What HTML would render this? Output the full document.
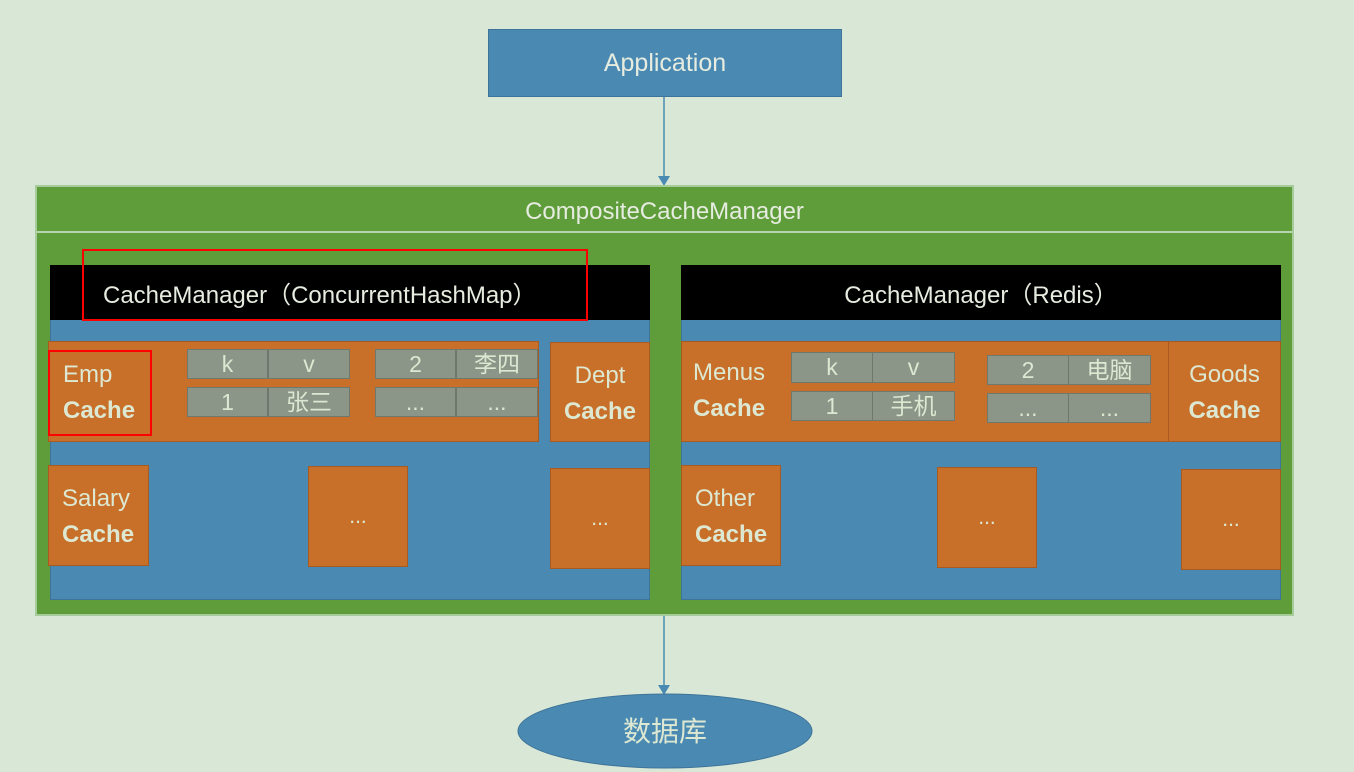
<!DOCTYPE html>
<html><head><meta charset="utf-8"><style>
body{margin:0;width:1354px;height:772px;background:#d9e7d6;position:relative;overflow:hidden;font-family:"Liberation Sans","Noto Sans CJK SC",sans-serif;color:#dde8d2}
div{position:absolute;box-sizing:border-box}
.o{background:#c8702a;border:1px solid #a85a20}
.g{background:#8b9588;border:1px solid #6f786c;font-size:23px;text-align:center;line-height:28px}
.lbl{font-size:24px;line-height:36px;padding-left:13px}
.lbl b{display:block}
.c{display:flex;align-items:center;justify-content:center;font-size:21px}
.t{display:flex;align-items:center;justify-content:center;font-size:24px;color:#e6ece0}
</style></head><body>
<div class="t" style="left:488px;top:29px;width:354px;height:68px;background:#4a8ab2;border:1px solid #3e7499;font-size:25px">Application</div>
<svg style="position:absolute;left:0;top:0" width="1354" height="772">
<line x1="664" y1="97" x2="664" y2="178" stroke="#4a8ab2" stroke-width="1.5"/>
<polygon points="658,176 670,176 664,186" fill="#4a8ab2"/>
<line x1="664" y1="615" x2="664" y2="688" stroke="#4a8ab2" stroke-width="1.5"/>
<polygon points="658,685 670,685 664,695" fill="#4a8ab2"/>
<ellipse cx="665" cy="731" rx="147" ry="37" fill="#4a8ab2" stroke="#3e7499"/>
<text x="665" y="741" text-anchor="middle" font-size="28" fill="#dde8d2" font-family="Noto Sans CJK SC,sans-serif">数据库</text>
</svg>
<div style="left:35px;top:185px;width:1259px;height:431px;background:#5f9c3a;border:2px solid #a6cc9c"></div>
<div style="left:37px;top:231px;width:1255px;height:2px;background:#b7d6ae"></div>
<div class="t" style="left:37px;top:190px;width:1255px;height:44px">CompositeCacheManager</div>

<div style="left:50px;top:265px;width:600px;height:335px;background:#4a8ab2;border:1px solid #3e7499"></div>
<div class="t" style="left:50px;top:265px;width:600px;height:55px;background:#000;justify-content:flex-start;padding-left:53px">CacheManager（ConcurrentHashMap）</div>
<div class="o" style="left:48px;top:341px;width:491px;height:101px"></div>
<div class="o lbl" style="left:48px;top:350px;width:104px;height:86px;border:2px solid #f00;padding-top:5px">Emp<b>Cache</b></div>
<div class="g" style="left:187px;top:349px;width:81px;height:30px">k</div>
<div class="g" style="left:268px;top:349px;width:82px;height:30px">v</div>
<div class="g" style="left:187px;top:387px;width:81px;height:30px">1</div>
<div class="g" style="left:268px;top:387px;width:82px;height:30px">张三</div>
<div class="g" style="left:375px;top:349px;width:81px;height:30px">2</div>
<div class="g" style="left:456px;top:349px;width:82px;height:30px">李四</div>
<div class="g" style="left:375px;top:387px;width:81px;height:30px">...</div>
<div class="g" style="left:456px;top:387px;width:82px;height:30px">...</div>
<div class="o lbl" style="left:550px;top:342px;width:100px;height:100px;padding:15px 0 0 0;text-align:center">Dept<b>Cache</b></div>
<div class="o lbl" style="left:48px;top:465px;width:101px;height:101px;padding-top:15px">Salary<b>Cache</b></div>
<div class="o c" style="left:308px;top:466px;width:100px;height:101px">...</div>
<div class="o c" style="left:550px;top:468px;width:100px;height:101px">...</div>
<div style="left:82px;top:249px;width:506px;height:72px;border:2px solid #f00"></div>

<div style="left:681px;top:265px;width:600px;height:335px;background:#4a8ab2;border:1px solid #3e7499"></div>
<div class="t" style="left:681px;top:265px;width:600px;height:55px;background:#000">CacheManager（Redis）</div>
<div class="o" style="left:681px;top:341px;width:498px;height:101px"></div>
<div class="lbl" style="left:681px;top:355px;width:110px;height:80px;padding-left:12px">Menus<b>Cache</b></div>
<div class="g" style="left:791px;top:352px;width:82px;height:31px">k</div>
<div class="g" style="left:872px;top:352px;width:83px;height:31px">v</div>
<div class="g" style="left:791px;top:391px;width:82px;height:30px">1</div>
<div class="g" style="left:872px;top:391px;width:83px;height:30px">手机</div>
<div class="g" style="left:987px;top:355px;width:82px;height:30px">2</div>
<div class="g" style="left:1068px;top:355px;width:83px;height:30px">电脑</div>
<div class="g" style="left:987px;top:393px;width:82px;height:30px">...</div>
<div class="g" style="left:1068px;top:393px;width:83px;height:30px">...</div>
<div class="o lbl" style="left:1168px;top:341px;width:113px;height:101px;padding:15px 0 0 0;text-align:center">Goods<b>Cache</b></div>
<div class="o lbl" style="left:681px;top:465px;width:100px;height:101px;padding-top:15px">Other<b>Cache</b></div>
<div class="o c" style="left:937px;top:467px;width:100px;height:101px">...</div>
<div class="o c" style="left:1181px;top:469px;width:100px;height:101px">...</div>
</body></html>
